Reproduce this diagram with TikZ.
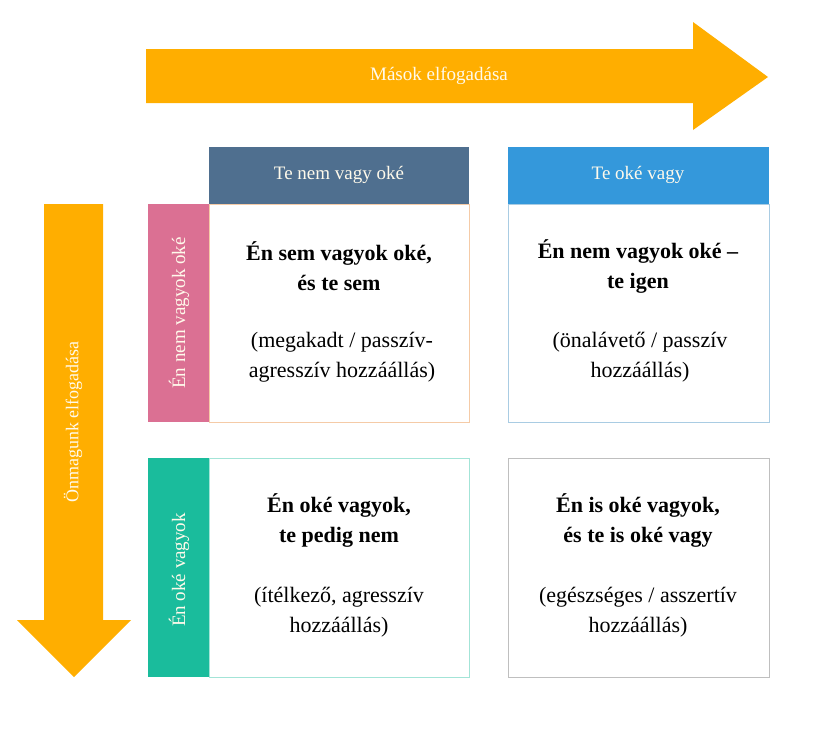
\documentclass[tikz,border=0pt]{standalone}
\usepackage{fontspec}
\setmainfont{Liberation Serif}
\definecolor{arroworange}{RGB}{255,174,0}
\definecolor{hdrdark}{RGB}{79,111,143}
\definecolor{hdrblue}{RGB}{52,152,219}
\definecolor{sidepink}{RGB}{219,112,147}
\definecolor{sidegreen}{RGB}{26,188,156}
\definecolor{bpeach}{RGB}{245,203,167}
\definecolor{bblue}{RGB}{169,204,227}
\definecolor{bteal}{RGB}{163,228,215}
\definecolor{bgray}{RGB}{191,191,191}
\definecolor{labelwhite}{RGB}{255,250,235}
\tikzset{
  lbl/.style={text=labelwhite, font=\fontsize{19}{22}\selectfont, inner sep=0pt},
  boldtxt/.style={font=\fontsize{22}{30}\selectfont\bfseries, align=center, inner sep=0pt},
  normtxt/.style={font=\fontsize{22}{30}\selectfont, align=center, inner sep=0pt},
  cellbox/.style={fill=white, line width=1pt},
}
\begin{document}
\begin{tikzpicture}[x=1pt,y=-1pt]
\useasboundingbox (0,0) rectangle (822,729);
% top arrow
\fill[arroworange] (146,49) -- (693,49) -- (693,22) -- (768,77) -- (693,130) -- (693,103) -- (146,103) -- cycle;
\node[lbl] (topl) at (439,76) {Mások elfogadása};
% left arrow
\fill[arroworange] (44,204) -- (103,204) -- (103,620) -- (131,620) -- (74,677) -- (17,620) -- (44,620) -- cycle;
\node[lbl, rotate=90, font=\fontsize{18}{22}\selectfont] (leftl) at (73,422) {Önmagunk elfogadása};
% cells
\draw[cellbox, draw=bpeach] (209,204) rectangle (469,422);
\draw[cellbox, draw=bblue] (508,204) rectangle (769,422);
\draw[cellbox, draw=bteal] (209,458) rectangle (469,677);
\draw[cellbox, draw=bgray] (508,458) rectangle (769,677);
% headers
\fill[hdrdark] (209,147) rectangle (469,204);
\fill[hdrblue] (508,147) rectangle (769,204);
\node[lbl] (h1) at (339,175) {Te nem vagy oké};
\node[lbl] (h2) at (638,175) {Te oké vagy};
% side labels
\fill[sidepink] (148,204) rectangle (209,422);
\fill[sidegreen] (148,458) rectangle (209,677);
\node[lbl, rotate=90] (s1) at (179,313) {Én nem vagyok oké};
\node[lbl, rotate=90] (s2) at (179,570) {Én oké vagyok};
% cell texts
\node[boldtxt] (c1b) at (339,266) {Én sem vagyok oké,\\és te sem};
\node[normtxt] (c1n) at (342,357) {(megakadt / passzív-\\agresszív hozzáállás)};
\node[boldtxt] (c2b) at (638,266) {Én nem vagyok oké –\\te igen};
\node[normtxt] (c2n) at (640,357) {(önalávető / passzív\\hozzáállás)};
\node[boldtxt] (c3b) at (339,520) {Én oké vagyok,\\te pedig nem};
\node[normtxt] (c3n) at (339,612) {(ítélkező, agresszív\\hozzáállás)};
\node[boldtxt] (c4b) at (638,520) {Én is oké vagyok,\\és te is oké vagy};
\node[normtxt] (c4n) at (638,612) {(egészséges / asszertív\\hozzáállás)};
\end{tikzpicture}
\end{document}
